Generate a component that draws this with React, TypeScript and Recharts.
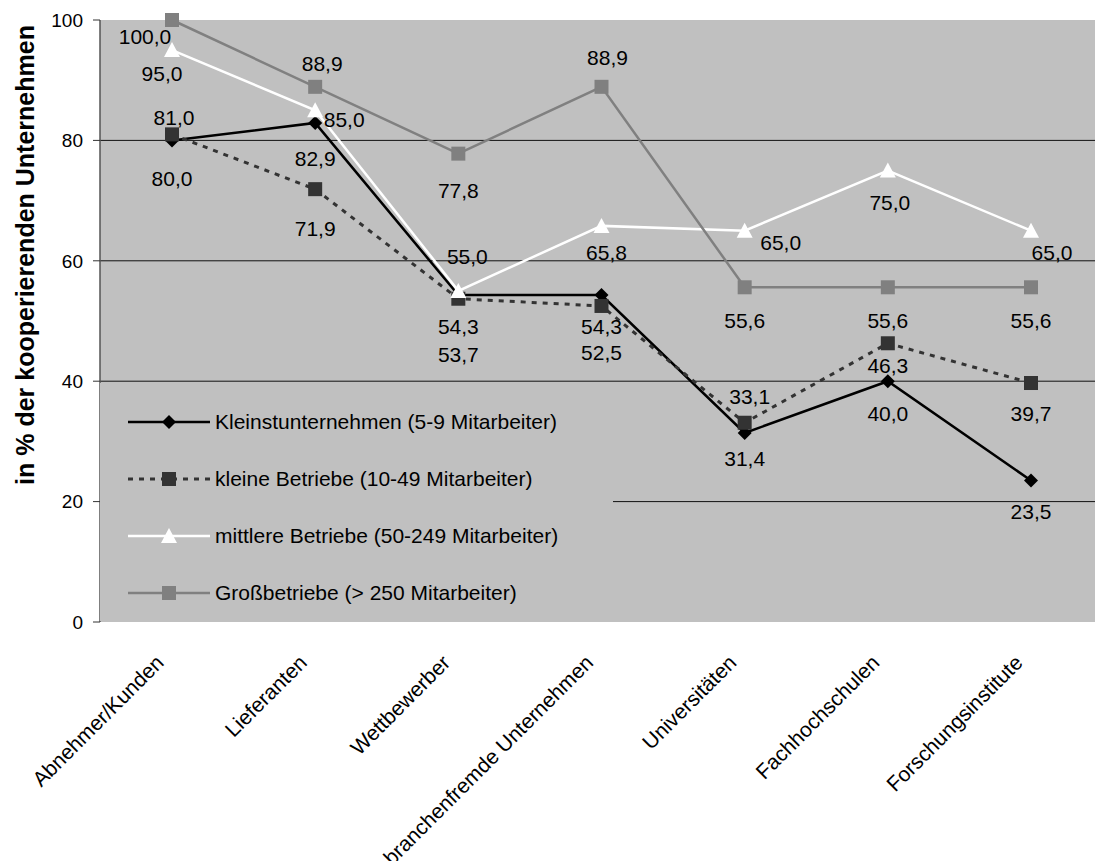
import React from "react";
import {
  CartesianGrid,
  LabelList,
  Legend,
  Line,
  LineChart,
  ReferenceLine,
  XAxis,
  YAxis,
} from "recharts";

const categories = [
  "Abnehmer/Kunden",
  "Lieferanten",
  "Wettbewerber",
  "branchenfremde Unternehmen",
  "Universitäten",
  "Fachhochschulen",
  "Forschungsinstitute",
];
const kleinstunternehmen = [80.0, 82.9, 54.3, 54.3, 31.4, 40.0, 23.5];
const kleineBetriebe = [81.0, 71.9, 53.7, 52.5, 33.1, 46.3, 39.7];
const mittlereBetriebe = [95.0, 85.0, 55.0, 65.8, 65.0, 75.0, 65.0];
const grossbetriebe = [100.0, 88.9, 77.8, 88.9, 55.6, 55.6, 55.6];
const yTicks = [0, 20, 40, 60, 80, 100];
const gridValues = [20, 40, 60, 80];

const FONT = '"Liberation Sans", Arial, sans-serif';

const data = categories.map((name, i) => ({
  name,
  idx: i,
  kleinst: kleinstunternehmen[i],
  kleine: kleineBetriebe[i],
  mittlere: mittlereBetriebe[i],
  gross: grossbetriebe[i],
}));

// category boundaries for the outer tick marks
const boundaries = [...categories.map((_, i) => i), categories.length];

type Shape = "diamond" | "square" | "triangle";

// where each value label sits relative to its point (dx, dy)
const series = [
  {
    key: "kleinst",
    name: "Kleinstunternehmen (5-9 Mitarbeiter)",
    color: "#000000",
    dash: undefined as string | undefined,
    shape: "diamond" as Shape,
    labelOffsets: [[0, 38], [0, 36], [0, 31], [0, 31], [0, 26], [0, 32], [0, 31]],
  },
  {
    key: "kleine",
    name: "kleine Betriebe (10-49 Mitarbeiter)",
    color: "#333333",
    dash: "5 6",
    shape: "square" as Shape,
    labelOffsets: [[2, -17], [0, 39], [0, 56], [0, 47], [5, -26], [0, 22], [0, 30]],
  },
  {
    key: "mittlere",
    name: "mittlere Betriebe (50-249 Mitarbeiter)",
    color: "#ffffff",
    dash: undefined,
    shape: "triangle" as Shape,
    labelOffsets: [[-10, 23], [29, 9], [9, -34], [5, 27], [36, 12], [2, 32], [21, 22]],
  },
  {
    key: "gross",
    name: "Großbetriebe (> 250 Mitarbeiter)",
    color: "#808080",
    dash: undefined,
    shape: "square" as Shape,
    labelOffsets: [[-27, 16], [7, -23], [0, 37], [6, -29], [0, 33], [0, 33], [0, 33]],
  },
];

function Marker({ shape, cx, cy, fill }: { shape: Shape; cx: number; cy: number; fill: string }) {
  if (shape === "diamond") {
    const s = 7;
    return (
      <polygon
        points={`${cx},${cy - s} ${cx + s},${cy} ${cx},${cy + s} ${cx - s},${cy}`}
        fill={fill}
      />
    );
  }
  if (shape === "triangle") {
    return (
      <polygon
        points={`${cx},${cy - 8} ${cx + 8},${cy + 7} ${cx - 8},${cy + 7}`}
        fill={fill}
      />
    );
  }
  return <rect x={cx - 7} y={cy - 7} width={14} height={14} fill={fill} />;
}

const fmt = (v: number) => v.toFixed(1).replace(".", ",");

function CategoryTick({ x, y, payload }: any) {
  return (
    <text
      transform={`translate(${x - 7},${y + 34}) rotate(-45)`}
      textAnchor="end"
      fontSize={21}
      fontFamily={FONT}
      fill="#000"
    >
      {payload.value}
    </text>
  );
}

function YTitle({ viewBox }: any) {
  const x = viewBox.x + 25;
  const y = viewBox.y + viewBox.height / 2 - 66;
  return (
    <text
      transform={`translate(${x},${y}) rotate(-90)`}
      textAnchor="middle"
      dominantBaseline="central"
      fontSize={25}
      fontWeight="bold"
      fontFamily={FONT}
      fill="#000"
    >
      in % der kooperierenden Unternehmen
    </text>
  );
}

function LegendContent({ payload }: any) {
  const entries = (payload || []) as any[];
  return (
    <div style={{ paddingTop: 10, fontFamily: FONT, fontSize: 21, color: "#000" }}>
      {series.map((s) => {
        const entry = entries.find((e) => e.dataKey === s.key);
        return (
          <div key={s.key} style={{ height: 57, display: "flex", alignItems: "center" }}>
            <svg width={110} height={20} style={{ flex: "none" }}>
              <line
                x1={28}
                x2={110}
                y1={10}
                y2={10}
                stroke={s.color}
                strokeWidth={s.dash ? 3 : 2.5}
                strokeDasharray={s.dash}
              />
              <Marker shape={s.shape} cx={69} cy={10} fill={s.color} />
            </svg>
            <span style={{ marginLeft: 5, whiteSpace: "nowrap" }}>
              {entry?.value ?? s.name}
            </span>
          </div>
        );
      })}
    </div>
  );
}

export default function App() {
  return (
    <div
      style={{
        position: "absolute",
        left: 0,
        top: 0,
        width: 1095,
        height: 861,
        overflow: "hidden",
        background: "#fff",
      }}
    >
      <LineChart
        width={1110}
        height={861}
        data={data}
        margin={{ top: 20, right: 7, left: 0, bottom: 0 }}
        style={{ fontFamily: FONT }}
      >
        <CartesianGrid horizontal={false} vertical={false} fill="#C0C0C0" />
        <XAxis
          xAxisId="frame"
          dataKey="idx"
          type="number"
          domain={[0, categories.length]}
          ticks={boundaries}
          allowDataOverflow
          height={0}
          tick={false}
          tickSize={7}
          axisLine={{ stroke: "#333", strokeWidth: 1.5 }}
          tickLine={{ stroke: "#333" }}
        />
        <XAxis
          xAxisId="cat"
          dataKey="name"
          height={239}
          padding={{ left: 72, right: 72 }}
          interval={0}
          axisLine={false}
          tickLine={false}
          tick={<CategoryTick />}
        />
        <YAxis
          domain={[0, 100]}
          ticks={yTicks}
          width={100}
          tickSize={7}
          tickMargin={10}
          interval={0}
          axisLine={{ stroke: "#555", strokeWidth: 1.5 }}
          tickLine={{ stroke: "#333" }}
          tick={{ fontSize: 19, fill: "#000", fontFamily: FONT }}
          label={<YTitle />}
        />
        {gridValues.map((v) => (
          <ReferenceLine key={v} y={v} xAxisId="cat" stroke="#111" strokeWidth={1} />
        ))}
        <Legend
          layout="vertical"
          align="center"
          verticalAlign="middle"
          content={<LegendContent />}
          wrapperStyle={{ left: 100, top: 383, width: 513, height: 238, background: "#C0C0C0" }}
        />
        {series.map((s) => (
          <Line
            key={s.key}
            xAxisId="cat"
            dataKey={s.key}
            name={s.name}
            stroke={s.color}
            strokeWidth={s.dash ? 3 : 2.5}
            strokeDasharray={s.dash}
            isAnimationActive={false}
            dot={(p: any) => (
              <Marker key={`${s.key}-${p.index}`} shape={s.shape} cx={p.cx} cy={p.cy} fill={s.color} />
            )}
            activeDot={false}
          >
            <LabelList
              dataKey={s.key}
              content={(p: any) => {
                const off = s.labelOffsets[p.index] || [0, 30];
                return (
                  <text
                    x={p.x + off[0]}
                    y={p.y + off[1]}
                    textAnchor="middle"
                    dominantBaseline="central"
                    fontSize={21}
                    fontFamily={FONT}
                    fill="#000"
                  >
                    {fmt(Number(p.value))}
                  </text>
                );
              }}
            />
          </Line>
        ))}
      </LineChart>
    </div>
  );
}
